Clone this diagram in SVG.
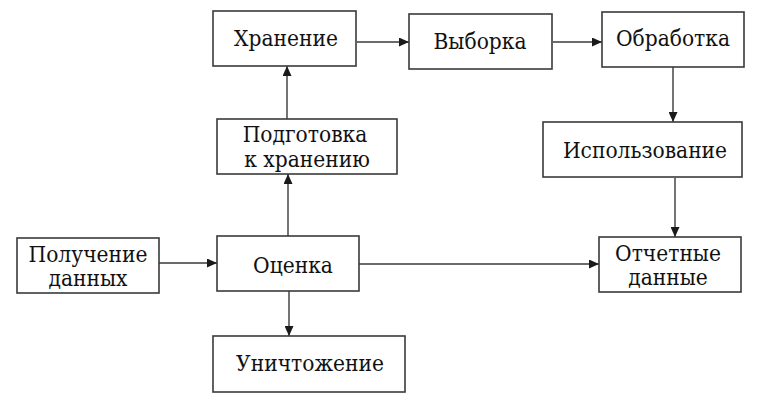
<svg xmlns="http://www.w3.org/2000/svg" width="773" height="408" viewBox="0 0 773 408">
<style>
.box{fill:#fff;stroke:#3a3a3a;stroke-width:1.6}
.t{font-family:'DejaVu Serif Condensed','DejaVu Serif',serif;font-stretch:condensed;font-size:22.5px;fill:#111;text-anchor:middle}
.c{stroke:#3a3a3a;stroke-width:1.4;fill:none;marker-end:url(#ah)}
</style>
<defs>
<marker id="ah" markerUnits="userSpaceOnUse" markerWidth="11" markerHeight="9" refX="10" refY="4.5" orient="auto">
<path d="M0,0 L10,4.5 L0,9 z" fill="#1a1a1a"/>
</marker>
</defs>
<rect width="773" height="408" fill="#fff"/>
<g id="connectors">
<line class="c" x1="357" y1="42" x2="409" y2="42"/>
<line class="c" x1="553" y1="42" x2="602" y2="42"/>
<line class="c" x1="673" y1="67" x2="673" y2="122"/>
<line class="c" x1="675" y1="178" x2="675" y2="237"/>
<line class="c" x1="159" y1="263" x2="217" y2="263"/>
<line class="c" x1="359" y1="264" x2="599" y2="264"/>
<line class="c" x1="289" y1="291" x2="289" y2="336"/>
<line class="c" x1="288" y1="236" x2="288" y2="174"/>
<line class="c" x1="287" y1="119" x2="287" y2="66"/>
</g>
<g id="khranenie"><rect class="box" x="213" y="11" width="143" height="55"/><text class="t" x="286" y="46">Хранение</text></g>
<g id="vyborka"><rect class="box" x="409" y="14" width="143" height="55"/><text class="t" x="480" y="49">Выборка</text></g>
<g id="obrabotka"><rect class="box" x="602" y="12" width="142" height="55"/><text class="t" x="673" y="46">Обработка</text></g>
<g id="podgotovka"><rect class="box" x="217" y="119" width="180" height="55"/><text class="t" x="305" y="142">Подготовка</text><text class="t" x="307" y="167">к хранению</text></g>
<g id="ispolzovanie"><rect class="box" x="543" y="122" width="199" height="55"/><text class="t" x="645" y="158">Использование</text></g>
<g id="poluchenie"><rect class="box" x="17" y="238" width="142" height="55"/><text class="t" x="88" y="262">Получение</text><text class="t" x="88" y="286">данных</text></g>
<g id="otsenka"><rect class="box" x="217" y="236" width="142" height="55"/><text class="t" x="293" y="273">Оценка</text></g>
<g id="otchetnye"><rect class="box" x="599" y="237" width="142" height="55"/><text class="t" x="668" y="261">Отчетные</text><text class="t" x="668" y="285">данные</text></g>
<g id="unichtozhenie"><rect class="box" x="213" y="336" width="192" height="56"/><text class="t" x="310" y="371">Уничтожение</text></g>
</svg>
